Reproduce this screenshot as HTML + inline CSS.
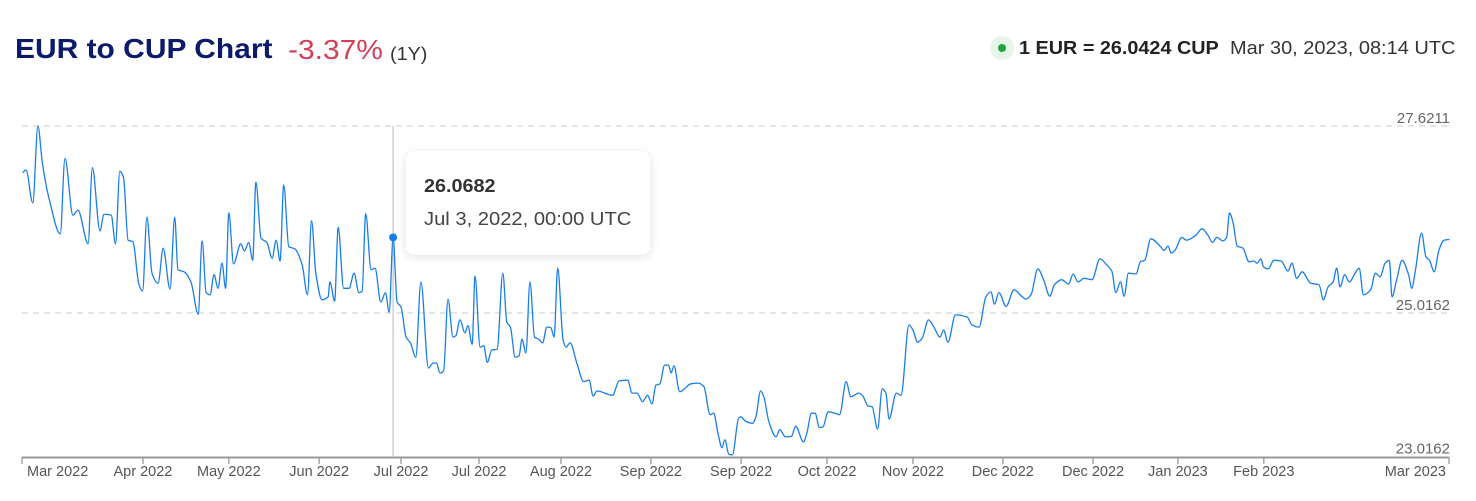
<!DOCTYPE html>
<html><head><meta charset="utf-8"><style>
body{margin:0;width:1476px;height:501px;background:#fff;font-family:"Liberation Sans",sans-serif;overflow:hidden;position:relative}
.t{position:absolute;white-space:nowrap;transform-origin:0 0}
</style></head><body>
<div class="t" style="left:15px;top:33px;font-size:28px;font-weight:bold;color:#0c1a6b;transform:scaleX(1.07)">EUR to CUP Chart</div>
<div class="t" style="left:288px;top:34px;font-size:28px;color:#d2405a;transform:scaleX(1.07)">-3.37%</div>
<div class="t" style="left:390px;top:44px;font-size:18px;color:#333;transform:scaleX(1.1)">(1Y)</div>
<div class="t" style="left:990px;top:36px;width:24px;height:24px;border-radius:12px;background:#e6f5e9"><div style="position:absolute;left:8px;top:8px;width:8px;height:8px;border-radius:4px;background:#1fa33c"></div></div>
<div class="t" style="left:1019px;top:38px;font-size:18px;font-weight:bold;color:#222;transform:scaleX(1.1)">1 EUR = 26.0424 CUP</div>
<div class="t" style="left:1230px;top:38px;font-size:18px;color:#333;transform:scaleX(1.11)">Mar 30, 2023, 08:14 UTC</div>
<svg id="chart" width="1476" height="501" style="position:absolute;left:0;top:0"></svg>
<div class="t" style="left:406px;top:151px;width:244px;height:104px;border-radius:9px;background:#fff;box-shadow:0 2px 10px rgba(0,0,0,0.12)">
<div style="position:absolute;left:18px;top:25px;font-size:18px;font-weight:bold;color:#333;transform:scaleX(1.1);transform-origin:0 0">26.0682</div>
<div style="position:absolute;left:18px;top:58px;font-size:18px;color:#444;transform:scaleX(1.12);transform-origin:0 0">Jul 3, 2022, 00:00 UTC</div>
</div>
<script>
const days=[0.2,1.1,3.0,4.4,5.7,7.6,10.6,11.9,14.1,15.5,18.3,19.5,21.6,22.7,24.7,25.9,27.1,28.1,29.4,30.7,32.4,33.4,34.6,36.0,37.7,39.1,41.0,42.3,43.2,44.9,46.8,48.8,49.9,51.0,52.1,53.2,54.3,55.4,56.4,57.3,58.6,60.6,61.6,62.8,63.9,64.8,66.2,67.8,69.3,70.4,71.5,72.5,73.9,75.6,77.6,79.1,80.2,81.4,83.1,84.8,85.3,86.6,87.6,89.1,90.6,92.0,93.3,94.2,95.2,96.7,97.8,99.4,100.7,101.7,102.8,103.9,105.0,106.4,107.6,109.1,110.5,112.6,113.9,114.8,115.8,116.8,118.0,119.4,120.2,121.3,122.7,123.5,124.7,125.5,126.9,127.9,128.9,130.1,131.6,133.2,134.3,135.3,136.6,137.7,138.5,139.6,140.7,142.0,143.2,144.2,145.4,146.5,147.4,148.4,149.9,150.7,151.8,153.7,155.6,157.1,158.2,159.3,163.6,165.4,167.8,169.0,170.4,171.9,173.3,174.5,175.6,176.7,178.0,179.1,179.8,180.6,182.2,185.3,187.4,188.9,190.6,191.6,192.8,193.9,194.7,195.8,196.8,198.5,199.1,200.4,202.4,203.3,204.6,205.5,206.9,208.9,209.9,211.5,213.2,214.3,216.5,217.4,218.7,219.7,220.9,221.9,223.3,225.2,226.5,228.3,229.6,231.8,232.8,234.4,235.5,237.0,238.3,239.3,240.2,242.2,243.5,245.7,246.8,248.1,249.4,251.1,252.6,254.3,255.3,256.5,258.6,261.8,263.2,265.1,267.0,268.4,269.4,270.6,272.6,274.8,276.9,278.1,279.5,281.4,283.0,284.7,286.0,288.0,289.9,291.2,292.5,294.2,296.4,298.6,300.4,301.9,303.0,304.3,305.3,306.5,308.6,309.8,311.0,312.7,315.4,316.3,317.5,318.3,319.4,321.3,322.6,325.2,326.9,328.5,329.8,331.0,332.7,333.7,334.5,335.5,336.6,338.2,339.9,341.2,342.1,343.2,343.9,345.2,346.8,348.8,350.7,351.8,353.1,354.6,357.0,359.3,360.5,361.8,363.2,364.2,365.1,366.4,367.7,369.3,370.4,371.6,373.6,374.9,376.2,377.6,378.8,379.5,380.8,382.3,384.1,385.0,386.0,387.7,388.9,389.9,391.2,392.5,393.9,395.4];
const rates=[26.97,27.01,26.55,27.62,27.08,26.59,26.12,27.17,26.38,26.45,25.98,27.04,26.16,26.39,26.38,25.98,26.99,26.91,26.03,26.01,25.41,25.32,26.35,25.57,25.43,25.92,25.35,26.35,25.62,25.59,25.45,25.00,26.02,25.30,25.27,25.55,25.36,25.71,25.36,26.41,25.70,25.98,25.88,26.00,25.75,26.84,26.06,26.00,25.78,26.03,25.74,26.80,25.94,25.91,25.69,25.27,26.30,25.57,25.20,25.24,25.45,25.18,26.21,25.36,25.36,25.57,25.30,25.32,26.40,25.62,25.64,25.17,25.30,25.03,26.07,25.17,25.10,24.68,24.60,24.40,25.45,24.25,24.32,24.32,24.18,24.21,25.21,24.68,24.70,24.92,24.74,24.84,24.58,25.53,24.54,24.56,24.33,24.50,24.51,25.57,24.89,24.82,24.40,24.42,24.65,24.46,25.45,24.68,24.65,24.60,24.82,24.81,24.68,25.64,24.64,24.54,24.60,24.32,24.06,24.08,23.86,23.93,23.87,24.07,24.08,23.90,23.90,23.78,23.87,23.75,24.01,24.03,24.29,24.29,24.18,24.28,23.92,24.03,24.04,23.99,23.60,23.62,23.34,23.14,23.25,23.05,23.04,23.55,23.57,23.51,23.48,23.57,23.93,23.85,23.50,23.29,23.39,23.29,23.30,23.44,23.22,23.34,23.62,23.62,23.42,23.43,23.64,23.62,23.60,24.06,23.85,23.90,23.87,23.72,23.71,23.40,23.96,23.90,23.54,23.90,23.87,24.85,24.78,24.61,24.67,24.92,24.82,24.68,24.78,24.61,24.99,24.96,24.85,24.82,25.24,25.31,25.14,25.30,25.11,25.34,25.25,25.21,25.27,25.63,25.48,25.25,25.41,25.48,25.42,25.56,25.45,25.50,25.48,25.77,25.69,25.60,25.30,25.45,25.25,25.57,25.56,25.73,25.75,26.05,25.94,25.89,25.95,25.85,25.89,26.07,26.03,26.10,26.19,26.10,26.00,26.07,26.02,26.07,26.41,26.27,25.95,25.92,25.73,25.74,25.71,25.77,25.66,25.63,25.75,25.74,25.60,25.71,25.50,25.59,25.43,25.41,25.20,25.38,25.45,25.64,25.38,25.55,25.45,25.57,25.64,25.27,25.34,25.57,25.52,25.71,25.75,25.24,25.48,25.75,25.55,25.36,25.61,26.13,25.80,25.75,25.59,25.89,26.03,26.04];
const yTicks=[27.6211,25.0162,23.0162];
const yTickLabels=["27.6211","25.0162","23.0162"];
const xTickDays=[0,33.5,57.3,82.3,105,126.6,149.3,174.2,199.2,223,246.8,271.7,296.7,320.2,344,395.3];
const xTickLabels=["Mar 2022","Apr 2022","May 2022","Jun 2022","Jul 2022","Jul 2022","Aug 2022","Sep 2022","Sep 2022","Oct 2022","Nov 2022","Dec 2022","Dec 2022","Jan 2023","Feb 2023","Mar 2023"];
const hoverDay=102.8, hoverRate=26.0682;

const NS="http://www.w3.org/2000/svg",svg=document.getElementById('chart');
const X0=22,X1=1449,D0=0,D1=395.3;
const xs=d=>X0+(d-D0)/(D1-D0)*(X1-X0);
const ys=v=>313-(v-25.0162)*(187/(27.6211-25.0162));
function mk(t,a){const e=document.createElementNS(NS,t);for(const k in a)e.setAttribute(k,a[k]);svg.appendChild(e);return e;}
yTicks.forEach((v,i)=>{
  if(i<2){const g=mk('line',{x1:X0,x2:X1,y1:ys(v),y2:ys(v),stroke:'#d5d5d5','stroke-dasharray':'6,5','stroke-width':1.3});
  
  }
  const t=mk('text',{x:X1+1,y:ys(v)-3,'text-anchor':'end','font-size':15,fill:'#666','font-family':'Liberation Sans, sans-serif'});
  t.textContent=yTickLabels[i];
  
  
});
const ax=mk('line',{x1:X0,x2:X1,y1:457.5,y2:457.5,stroke:'#999','stroke-width':2});


xTickDays.forEach((d,i)=>{
  const x=xs(d);
  const tk=mk('line',{x1:x,x2:x,y1:457,y2:464,stroke:'#999','stroke-width':1.3});
  
  
  const anc=i==0?'start':(i==xTickDays.length-1?'end':'middle');
  const t=mk('text',{x:i==0?x+5:(i==xTickDays.length-1?x-3:x),y:476,'text-anchor':anc,'font-size':14.5,fill:'#555','font-family':'Liberation Sans, sans-serif'});
  t.textContent=xTickLabels[i];
  
  
});
const cl=mk('line',{x1:xs(hoverDay),x2:xs(hoverDay),y1:126,y2:457,stroke:'#c8c8c8','stroke-width':1.3});


const P=days.map((d,i)=>[xs(d),ys(rates[i])]);
const n=P.length,sl=[],m=[];
for(let i=0;i<n-1;i++)sl.push((P[i+1][1]-P[i][1])/(P[i+1][0]-P[i][0]));
for(let i=0;i<n;i++){
  if(i==0)m.push(sl[0]);else if(i==n-1)m.push(sl[n-2]);
  else{const a=sl[i-1],b=sl[i];m.push(a*b<=0?0:(2*a*b)/(a+b));}
}
let dstr='M'+P[0][0].toFixed(1)+','+P[0][1].toFixed(1);
for(let i=0;i<n-1;i++){
  const h=(P[i+1][0]-P[i][0])/3;
  dstr+=' C'+(P[i][0]+h).toFixed(1)+','+(P[i][1]+m[i]*h).toFixed(1)+' '+(P[i+1][0]-h).toFixed(1)+','+(P[i+1][1]-m[i+1]*h).toFixed(1)+' '+P[i+1][0].toFixed(1)+','+P[i+1][1].toFixed(1);
}
const p=mk('path',{d:dstr,fill:'none',stroke:'#1a7ee8','stroke-width':1.3,'stroke-linejoin':'round'});


const dot=mk('circle',{cx:xs(hoverDay),cy:ys(hoverRate),r:4,fill:'#1a7ee8'});


</script>
</body></html>
